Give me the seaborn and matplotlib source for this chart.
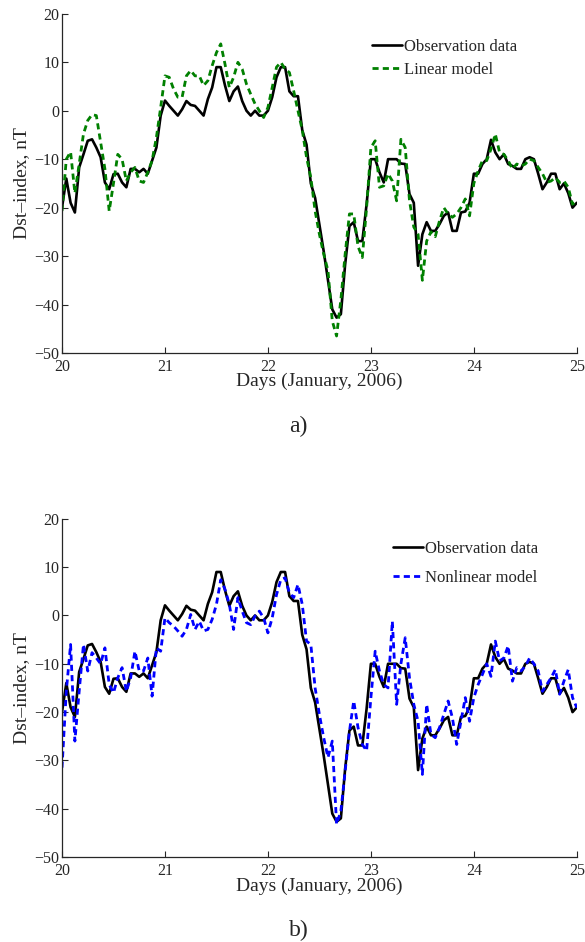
import numpy as np
import matplotlib
matplotlib.use('Agg')
import matplotlib.pyplot as plt
import seaborn as sns

# hourly samples, 20 Jan 00:00 .. 25 Jan 00:00
hours = np.arange(121)
days = 20 + hours / 24.0

obs = [-20, -14, -19, -21, -11.7, -9, -6.2, -5.9, -7.6, -9.6,
       -14.8, -16.2, -13.1, -13, -14.8, -15.8, -12, -12, -12.7, -12,
       -13, -10.3, -7.6, -1, 2.1, 1, 0, -1, 0.3, 2,
       1.2, 1, 0, -1, 2.4, 4.8, 9, 9, 5.2, 2,
       4, 5, 2, 0, -1, 0, -1, -1, 0, 2.8,
       6.9, 9, 9, 4, 3, 3, -4, -7, -15, -18,
       -23.5, -29, -35, -41, -42.7, -42, -31.7, -23.8, -23, -26.9,
       -26.9, -19.3, -10, -10, -12.7, -14.8, -10, -10, -10, -10.9,
       -11, -17.2, -19, -32, -25.5, -23, -24.8, -24.8, -23.4, -21.7,
       -21, -24.8, -24.8, -21, -20.8, -19, -13, -13, -11, -10,
       -6, -8.6, -10, -9, -11, -11.4, -12, -12, -10, -9.6,
       -10, -13, -16.2, -14.8, -13, -13, -16.2, -15, -17, -20,
       -19]

linear = [-20.7, -10, -8.5, -17, -11,
          -4.8, -2, -0.8, -1, -6.5, -12, -20.7, -15, -9, -10,
          -14.5, -12.7, -11.7, -14.5, -14.8, -12.7, -10.3, -5.5, 0.7, 7.2,
          6.9, 4.5, 2.8, 2.8, 7.2, 8.3, 7.2, 7.2, 5.2, 6.2,
          9.3, 12, 13.8, 9.6, 4.8, 6.9, 10, 8.6, 5.5, 3.4,
          1.4, 0, -1.4, 0.7, 4.8, 9, 10, 8.6, 7.9, 4.1,
          0, -4, -9.6, -13.8, -20.7, -25.5, -29.6, -33, -43.4, -46.5,
          -39, -29.6, -21.3, -21.3, -28, -30.3, -20, -7.6, -6.2, -15.8,
          -15.5, -13, -14.5, -18.6, -5.9, -7.6, -18.6, -24, -25.5, -35,
          -26.9, -25, -26, -22.7, -20, -21.3, -22, -21.3, -20, -18.2,
          -21.7, -15, -12.4, -10.3, -10.3, -7.9, -4.8, -8.6, -9, -10.3,
          -12, -11, -11.4, -11, -10, -10.3, -11.7, -13, -14.8, -14.5,
          -13.8, -14.8, -14.5, -15.8, -19.3, -18.6]

nonlinear = [-31.5, -15.7, -6, -26, -15.7, -6, -11.5, -7.7, -8.8, -10,
             -6.7, -14.3, -16, -12.9, -10.8, -15.7, -12.9, -7.4, -11.5, -11.5,
             -8.8, -16.7, -6.7, -7.4, -0.5, -1.5, -2.2, -3.2, -4.3, -2.9,
             0.2, -2.9, -1.2, -3.2, -2.9, -0.8, 2.3, 7.4, 5.4, 2.3,
             -2.9, 3.7, 0.9, -1.5, -1.9, -0.1, 0.9, -0.5, -3.6, -0.5,
             4.3, 7.4, 7.8, 4.7, 3.7, 6.4, 2.3, -5.3, -6, -15,
             -20.5, -25.3, -29.4, -26, -43.2, -40.5, -32.2, -24, -17.7, -23.2,
             -26.7, -28, -17, -7.4, -11.5, -14.3, -15, -1.2, -18.4, -10,
             -4.6, -12.9, -18.4, -21.9, -32.9, -18.4, -24.6, -25.3, -23.2, -20.5,
             -17.7, -21.2, -26.7, -21.9, -17, -21.9, -17, -14.3, -12.2, -10,
             -12.6, -5.3, -9.4, -8.8, -6.3, -13.6, -10.8, -11.5, -10.5, -8.8,
             -10, -11.5, -15.7, -14.3, -12.9, -11.2, -16.3, -13.6, -11.2, -17,
             -19.1]

day_ticks = [20, 21, 22, 23, 24, 25]
dst_ticks = [-50, -40, -30, -20, -10, 0, 10, 20]

sns.set_style('ticks')
plt.rcParams['font.family'] = ['Liberation Serif', 'DejaVu Serif']
plt.rcParams['axes.linewidth'] = 0.9

fig = plt.figure(figsize=(5.85, 9.42), dpi=100)

def panel(rect, model, color, name, letter, leg_anchor, spacing):
    ax = fig.add_axes(rect)
    sns.lineplot(x=days, y=obs, ax=ax, color='black', lw=1.9,
                 label='Observation data')
    sns.lineplot(x=days, y=model, ax=ax, color=color, lw=2.0,
                 linestyle=(0, (2.2, 1.5)), label=name)
    ax.set_xlim(20, 25)
    ax.set_ylim(-50, 20)
    ax.set_xticks(day_ticks)
    ax.set_yticks(dst_ticks)
    ax.tick_params(direction='in', length=4, width=0.8, labelsize=11.5)
    ax.tick_params(axis='x', pad=4)
    ax.tick_params(axis='y', pad=2)
    sns.despine(ax=ax)
    ax.set_xlabel('Days (January, 2006)', fontsize=14, labelpad=-1)
    ax.set_ylabel('Dst\u2013index, nT', fontsize=14, labelpad=3)
    ax.legend(loc='upper left', bbox_to_anchor=leg_anchor, frameon=False,
              fontsize=12, handlelength=1.8, handletextpad=0.1,
              borderpad=0, borderaxespad=0, labelspacing=spacing)
    fig.text(0.51, rect[1] - 0.078, letter, ha='center', va='center', fontsize=17)
    return ax

panel([0.106, 0.6253, 0.880, 0.36], linear, '#008000', 'Linear model', 'a)',
      (0.603, 0.925), 0.4)
panel([0.106, 0.0902, 0.880, 0.359], nonlinear, '#0000ff', 'Nonlinear model', 'b)',
      (0.643, 0.935), 0.8)

fig.savefig('out.png', dpi=100)
